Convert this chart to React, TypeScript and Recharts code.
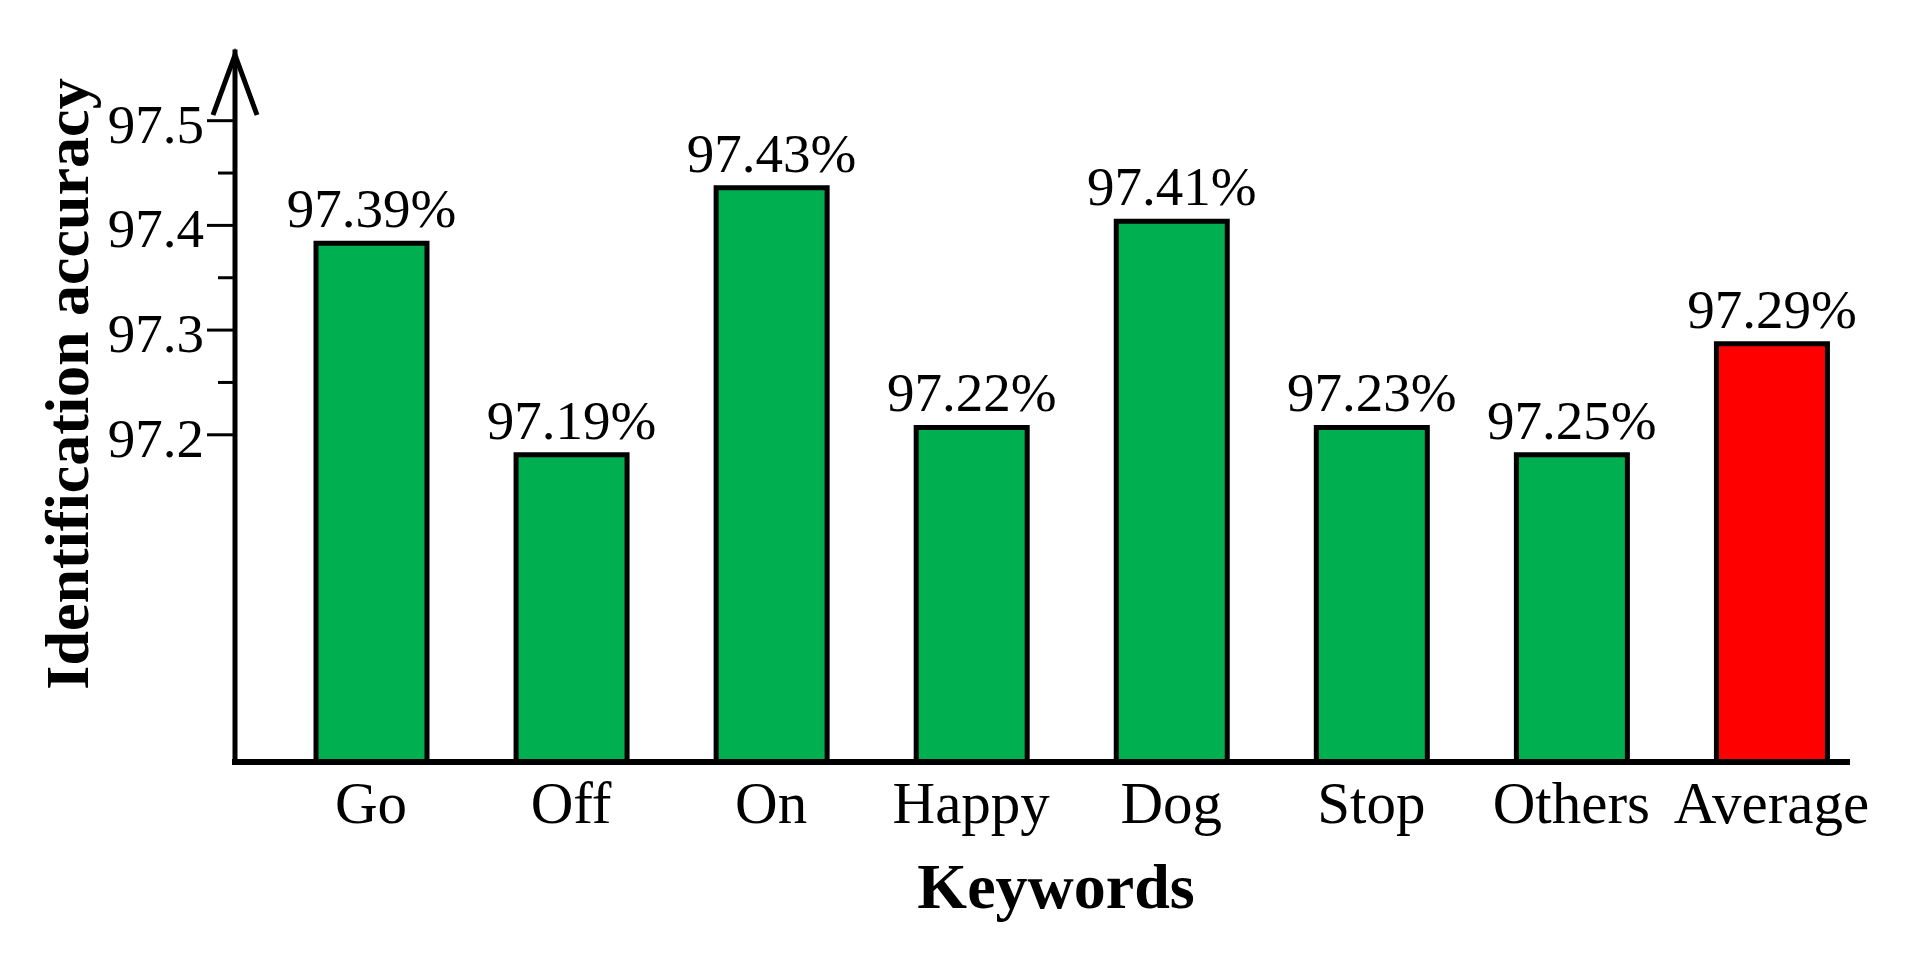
import { BarChart, Bar, XAxis, YAxis, Cell, LabelList } from 'recharts';

// values; the printed labels are kept as they appear
const keywords = ['Go', 'Off', 'On', 'Happy', 'Dog', 'Stop', 'Others', 'Average'];
const accuracy = [97.383, 97.181, 97.436, 97.207, 97.404, 97.207, 97.181, 97.287];
const accuracyLabels = ['97.39%', '97.19%', '97.43%', '97.22%', '97.41%', '97.23%', '97.25%', '97.29%'];
const barColors = ['#00b050', '#00b050', '#00b050', '#00b050', '#00b050', '#00b050', '#00b050', '#ff0000'];

const yTicks = [97.2, 97.25, 97.3, 97.35, 97.4, 97.45, 97.5];
const yMajorTicks = [97.2, 97.3, 97.4, 97.5];
const yDomain = [96.8875, 97.5656];

const serif = "'Liberation Serif', 'Times New Roman', Times, serif";

const data = keywords.map((k, i) => ({ keyword: k, value: accuracy[i], label: accuracyLabels[i] }));

function YTick({ x, y, payload }: any) {
  const major = yMajorTicks.includes(payload.value);
  return (
    <g>
      <line x1={x - (major ? 28 : 17)} y1={y} x2={x} y2={y} stroke="#000" strokeWidth={3} />
      {major && (
        <text x={x - 31} y={y + 22} textAnchor="end" fontSize={55} fontFamily={serif} fill="#000">
          {payload.value.toFixed(1)}
        </text>
      )}
    </g>
  );
}

function XTick({ x, y, payload }: any) {
  return (
    <text x={x} y={y + 61} textAnchor="middle" fontSize={59} fontFamily={serif} fill="#000">
      {payload.value}
    </text>
  );
}

const yAxisDecor = (props: any) => {
  const { x, y, width } = props.viewBox;
  const ax = x + width;
  return (
    <g>
      <polyline
        points={`${ax - 22},${y + 63} ${ax},${y + 3} ${ax + 22},${y + 63}`}
        fill="none"
        stroke="#000"
        strokeWidth={5}
      />
      <text
        transform={`translate(${x + 80}, ${y + 332}) rotate(-90)`}
        textAnchor="middle"
        fontSize={62}
        fontWeight="bold"
        fontFamily={serif}
        fill="#000"
      >
        Identification accuracy
      </text>
    </g>
  );
};

const xAxisTitle = (props: any) => {
  const { x, y, width } = props.viewBox;
  return (
    <text x={x + width / 2 + 15} y={y + 146} textAnchor="middle" fontSize={64} fontWeight="bold" fontFamily={serif} fill="#000">
      Keywords
    </text>
  );
};

export default function App() {
  return (
    <div style={{ width: 1904, height: 937, background: '#fff' }}>
      <BarChart width={1904} height={937} data={data} margin={{ top: 44, right: 65, left: 0, bottom: 83 }}>
        <XAxis
          dataKey="keyword"
          height={100}
          padding={{ left: 36, right: -24.5 }}
          axisLine={{ stroke: '#000', strokeWidth: 6, strokeLinecap: 'square' }}
          tickLine={false}
          tickSize={0}
          tickMargin={0}
          tick={<XTick />}
          interval={0}
          label={xAxisTitle}
        />
        <YAxis
          type="number"
          width={227}
          domain={yDomain}
          ticks={yTicks}
          allowDataOverflow
          axisLine={{ stroke: '#000', strokeWidth: 5, strokeLinecap: 'square' }}
          tickLine={false}
          tickSize={0}
          tickMargin={0}
          tick={<YTick />}
          interval={0}
          label={yAxisDecor}
        />
        <Bar dataKey="value" barSize={111} stroke="#000" strokeWidth={5} isAnimationActive={false}>
          {data.map((d, i) => (
            <Cell key={d.keyword} fill={barColors[i]} />
          ))}
          <LabelList dataKey="label" position="top" offset={16} fontSize={55} fontFamily={serif} fill="#000" />
        </Bar>
      </BarChart>
    </div>
  );
}
